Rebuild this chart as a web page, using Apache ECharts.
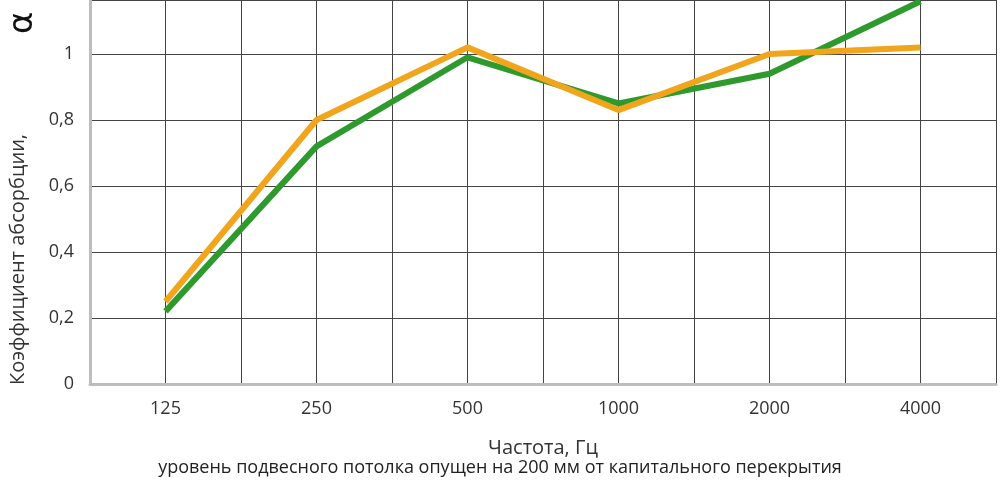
<!DOCTYPE html><html><head><meta charset="utf-8"><script src="https://cdn.jsdelivr.net/npm/echarts@6/dist/echarts.min.js"></script>
<style>body{margin:0;background:#fff}#c{width:1000px;height:500px}</style></head><body><div id="c"></div><script>
const categories=['125','250','500','1000','2000','4000'];
const greenValues=[0.22,0.72,0.99,0.85,0.94,1.16];
const orangeValues=[0.25,0.80,1.02,0.83,1.00,1.02];
const F='"Open Sans",sans-serif';
const toPts=v=>v.map((y,i)=>[i,y]);
const chart=echarts.init(document.getElementById('c'));
chart.setOption({
 animation:false,
 grid:{left:90,right:4,top:0,bottom:116},
 xAxis:{type:'value',min:-0.5,max:5.5,interval:0.5,
  axisLine:{show:true,onZero:false,lineStyle:{color:'#bdbdbd',width:3}},axisTick:{show:false},
  splitLine:{show:true,lineStyle:{color:'#444',width:1}},
  axisLabel:{margin:16,fontSize:18,color:'#333',fontFamily:F,formatter:v=>Number.isInteger(v)&&v>=0?categories[v]:''},
  name:'Частота, Гц',nameLocation:'middle',nameGap:54,nameTextStyle:{fontSize:20,color:'#333',fontFamily:F}},
 yAxis:{type:'value',min:0,max:1.1636,interval:0.2,
  axisLine:{show:true,onZero:false,lineStyle:{color:'#bdbdbd',width:3}},axisTick:{show:false},
  splitLine:{lineStyle:{color:'#444',width:1}},
  axisLabel:{margin:16,fontSize:18,color:'#333',fontFamily:F,formatter:v=>v>1.1?'':String(v).replace('.',',')}},
 graphic:[
  {type:'text',left:'center',top:459,style:{text:'уровень подвесного потолка опущен на 200 мм от капитального перекрытия',fontSize:18,fill:'#222',fontFamily:F}},
  {type:'text',x:8,y:385,rotation:Math.PI/2,style:{text:'Коэффициент абсорбции,',fontSize:20,fill:'#333',fontFamily:F}},
  {type:'text',x:6,y:34,rotation:Math.PI/2,style:{text:'α',fontSize:34,fill:'#111',fontFamily:'DejaVu Sans'}}
 ],
 series:[
  {type:'line',data:toPts(greenValues),symbol:'none',lineStyle:{color:'#2e9a2e',width:6}},
  {type:'line',data:toPts(orangeValues),symbol:'none',lineStyle:{color:'#f0a51c',width:6}}
 ]
});
</script></body></html>
